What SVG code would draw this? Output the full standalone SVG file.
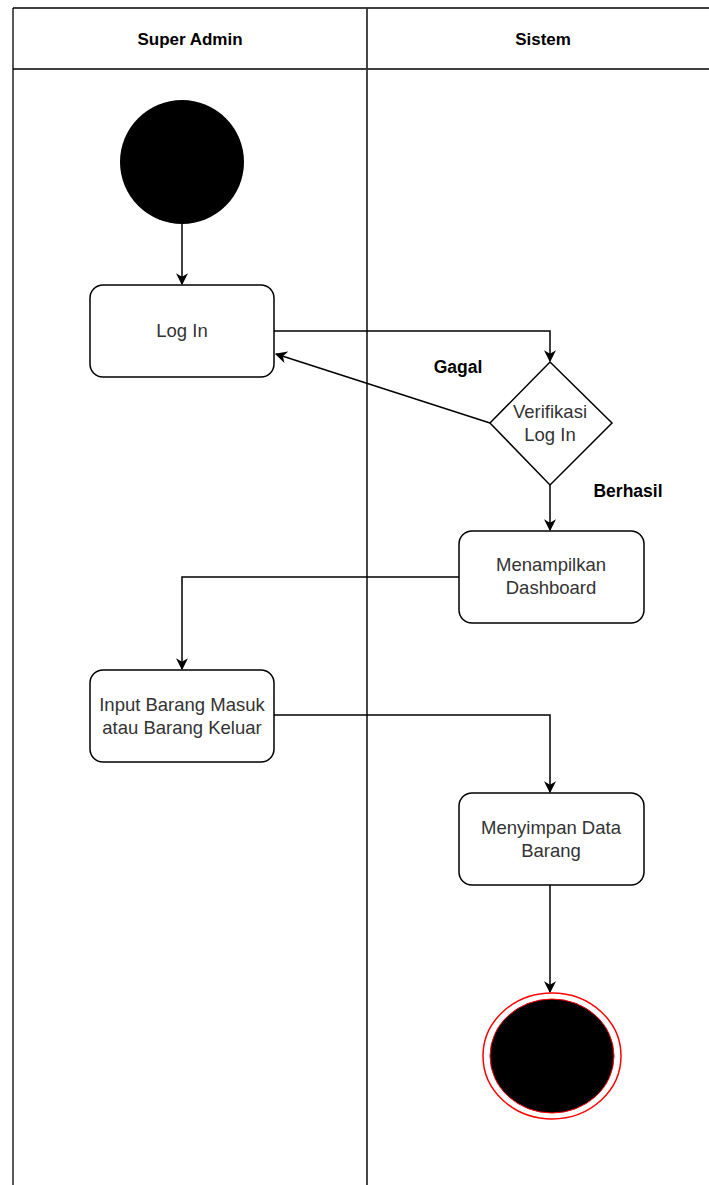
<svg xmlns="http://www.w3.org/2000/svg" width="709" height="1185" viewBox="0 0 709 1185">
<defs>
<style>
.lane{fill:none;stroke:#000;stroke-width:1.3}
.div{fill:none;stroke:#333;stroke-width:1.8}
.box{fill:#fff;stroke:#000;stroke-width:1.5}
.conn{fill:none;stroke:#000;stroke-width:1.5}
.t{font-family:"Liberation Sans",Arial,sans-serif;font-size:18.5px;fill:#333;text-anchor:middle}
.h{font-family:"Liberation Sans",Arial,sans-serif;font-size:17px;font-weight:bold;fill:#000;text-anchor:middle}
.lbl{font-family:"Liberation Sans",Arial,sans-serif;font-size:17.5px;font-weight:bold;fill:#000;text-anchor:middle}
</style>
<marker id="arr" viewBox="0 0 10 10" refX="9" refY="5" markerWidth="12" markerHeight="12" markerUnits="userSpaceOnUse" orient="auto">
<path d="M0,0 L10,5 L0,10 L3,5 Z" fill="#000"/>
</marker>
</defs>
<rect width="709" height="1185" fill="#fff"/>
<g id="pool">
<line class="lane" x1="13" y1="8" x2="709" y2="8"/>
<line class="lane" x1="13" y1="8" x2="13" y2="1185"/>
<line class="lane" x1="13" y1="69" x2="709" y2="69"/>
<line class="div" x1="367" y1="8" x2="367" y2="1185"/>
<text class="h" x="190" y="45">Super Admin</text>
<text class="h" x="543" y="45">Sistem</text>
</g>
<g id="connectors">
<line class="conn" x1="182" y1="224" x2="182" y2="284" marker-end="url(#arr)"/>
<polyline class="conn" points="274,331 550,331 550,361" marker-end="url(#arr)"/>
<line class="conn" x1="490" y1="423" x2="276" y2="354" marker-end="url(#arr)"/>
<line class="conn" x1="550" y1="485" x2="550" y2="530" marker-end="url(#arr)"/>
<polyline class="conn" points="459,577 182,577 182,669" marker-end="url(#arr)"/>
<polyline class="conn" points="274,715 550,715 550,792" marker-end="url(#arr)"/>
<line class="conn" x1="550" y1="885" x2="550" y2="992" marker-end="url(#arr)"/>
<text class="lbl" x="458" y="373">Gagal</text>
<text class="lbl" x="628" y="497">Berhasil</text>
</g>
<g id="start"><circle cx="182" cy="162" r="62" fill="#000"/></g>
<g id="login">
<rect class="box" x="90" y="285" width="184" height="92" rx="13"/>
<text class="t" x="182" y="337">Log In</text>
</g>
<g id="verifikasi">
<polygon class="box" points="550,362 612,423 550,485 490,423"/>
<text class="t" x="550" y="418">Verifikasi</text>
<text class="t" x="550" y="441">Log In</text>
</g>
<g id="dashboard">
<rect class="box" x="459" y="531" width="185" height="92" rx="13"/>
<text class="t" x="551" y="571">Menampilkan</text>
<text class="t" x="551" y="594">Dashboard</text>
</g>
<g id="input">
<rect class="box" x="90" y="670" width="184" height="92" rx="13"/>
<text class="t" x="182" y="711">Input Barang Masuk</text>
<text class="t" x="182" y="734">atau Barang Keluar</text>
</g>
<g id="simpan">
<rect class="box" x="459" y="793" width="185" height="92" rx="13"/>
<text class="t" x="551" y="834">Menyimpan Data</text>
<text class="t" x="551" y="857">Barang</text>
</g>
<g id="end">
<ellipse cx="552" cy="1056" rx="69" ry="63" fill="#fff" stroke="#f00" stroke-width="1.5"/>
<ellipse cx="552" cy="1056" rx="62" ry="57" fill="#000" stroke="#f00" stroke-width="1"/>
</g>
</svg>
